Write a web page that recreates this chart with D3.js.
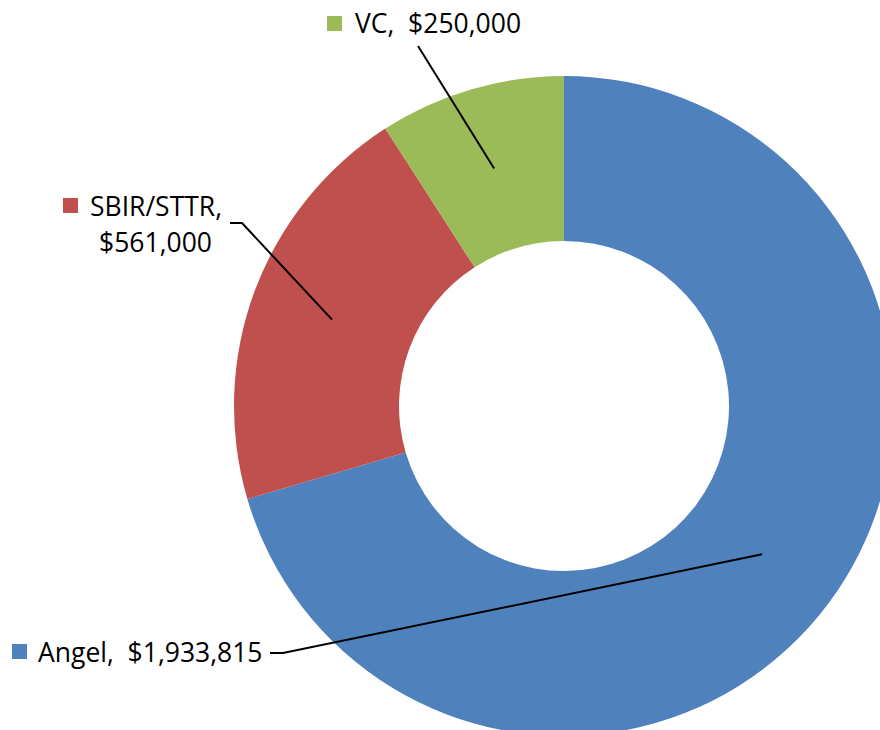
<!DOCTYPE html>
<head>
<meta charset="utf-8">
<script src="https://d3js.org/d3.v7.min.js"></script>
<style>
body { margin: 0; background: #fff; }
.label { font-family: "Open Sans", sans-serif; font-size: 26.5px; fill: #000; white-space: pre; }
.leader { fill: none; stroke: #000; stroke-width: 2; }
</style>
</head>
<body>
<script>
// data
var categories = ["Angel", "SBIR/STTR", "VC"];
var values = [1933815, 561000, 250000];
var colors = ["#4F81BD", "#C0504D", "#9BBB59"];

var width = 880, height = 730;
var cx = 564, cy = 406;
var outerR = 330, innerR = 165;

// label layout: key square position, text lines, leader start
var layout = [
    { key: [12, 644], lines: [[38, 662, "start"]], leader: [[270, 653], [283, 653]] },
    { key: [63, 198], lines: [[90, 216, "start"], [212, 252, "end"]], leader: [[230, 223], [242, 223]] },
    { key: [327, 16], lines: [[355, 33, "start"]], leader: [[418, 46]] }
];

var fmt = d3.format("$,");

var svg = d3.select("body").append("svg")
    .attr("width", width)
    .attr("height", height);

var pie = d3.pie().sort(null).value(function(d) { return d; });
var arc = d3.arc().innerRadius(innerR).outerRadius(outerR);

var arcs = pie(values);

var g = svg.append("g").attr("transform", "translate(" + cx + "," + cy + ")");

g.selectAll(".slice")
    .data(arcs)
    .enter().append("path")
    .attr("class", "slice")
    .attr("d", arc)
    .attr("fill", function(d, i) { return colors[i]; });

// leader lines from label to middle of ring
svg.selectAll(".leader")
    .data(arcs)
    .enter().append("path")
    .attr("class", "leader")
    .attr("d", function(d, i) {
        var c = arc.centroid(d);
        var pts = layout[i].leader.concat([[c[0] + cx, c[1] + cy]]);
        return d3.line()(pts);
    });

// labels
arcs.forEach(function(d, i) {
    var L = layout[i];
    svg.append("rect")
        .attr("x", L.key[0])
        .attr("y", L.key[1])
        .attr("width", 15)
        .attr("height", 15)
        .attr("fill", colors[i]);

    var txt;
    if (L.lines.length === 1) {
        txt = [categories[i] + ",  " + fmt(values[i])];
    } else {
        txt = [categories[i] + ",", fmt(values[i])];
    }
    txt.forEach(function(t, j) {
        svg.append("text")
            .attr("class", "label")
            .attr("x", L.lines[j][0])
            .attr("y", L.lines[j][1])
            .attr("text-anchor", L.lines[j][2])
            .text(t);
    });
});
</script>
</body>
